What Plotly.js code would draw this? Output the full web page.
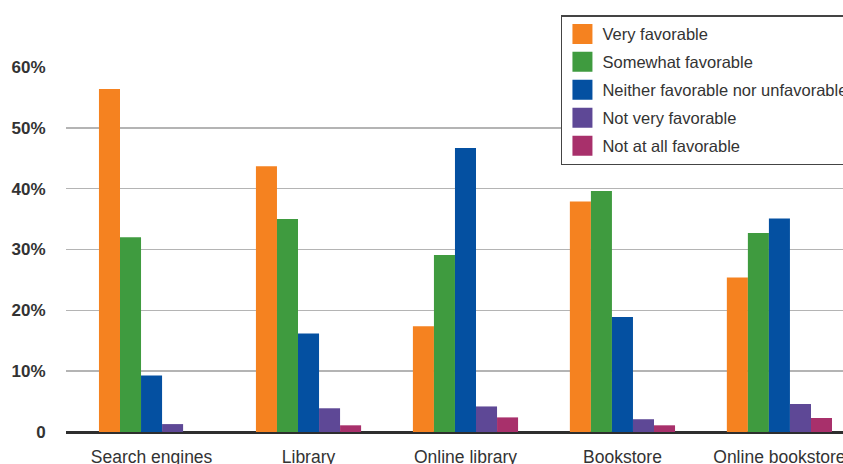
<!DOCTYPE html>
<html><head><meta charset="utf-8">
<script src="https://cdn.plot.ly/plotly-3.0.1.min.js"></script>
<style>html,body{margin:0;padding:0;background:#fff;overflow:hidden}#chart{width:843px;height:464px}</style>
</head><body><div id="chart"></div>
<script>
const categories = ["Search engines", "Library", "Online library", "Bookstore", "Online bookstore"];
const seriesNames = ["Very favorable", "Somewhat favorable", "Neither favorable nor unfavorable", "Not very favorable", "Not at all favorable"];
const veryFavorable = [56.4, 43.7, 17.4, 37.9, 25.4];
const somewhatFavorable = [32.0, 35.0, 29.1, 39.6, 32.7];
const neitherFavorable = [9.3, 16.2, 46.7, 18.9, 35.1];
const notVeryFavorable = [1.3, 3.9, 4.2, 2.1, 4.6];
const notAtAllFavorable = [0, 1.1, 2.4, 1.1, 2.3];
const seriesColors = ["#F58220", "#3F9B3F", "#0450A1", "#5E4896", "#A8306B"];
const yTickVals = [0, 10, 20, 30, 40, 50, 60];
const yTickText = ["0", "10%", "20%", "30%", "40%", "50%", "60%"];

const seriesValues = [veryFavorable, somewhatFavorable, neitherFavorable, notVeryFavorable, notAtAllFavorable];
const traces = seriesValues.map((vals, i) => ({
  type: "bar",
  name: seriesNames[i],
  x: categories,
  y: vals,
  marker: {color: seriesColors[i], line: {width: 0}},
  legendgroup: "g" + i,
  hoverinfo: "none"
}));

const layout = {
  width: 843,
  height: 464,
  paper_bgcolor: "#ffffff",
  plot_bgcolor: "#ffffff",
  margin: {l: 66, r: 0, t: 67, b: 32, pad: 0, autoexpand: false},
  font: {family: "Liberation Sans, Arial, sans-serif", color: "#333333"},
  barmode: "group",
  bargap: 0.33,
  bargroupgap: 0,
  showlegend: true,
  legend: {
    x: 0.637, y: 1.142, xanchor: "left", yanchor: "top",
    xref: "paper", yref: "paper",
    bgcolor: "#ffffff", bordercolor: "#444444", borderwidth: 1.5,
    font: {size: 16.5, color: "#333333", family: "Liberation Sans, Arial, sans-serif"},
    tracegroupgap: 3.5,
    traceorder: "grouped"
  },
  xaxis: {
    type: "category",
    range: [-0.545, 4.405],
    showgrid: false,
    showline: false,
    zeroline: false,
    automargin: false,
    ticks: "outside",
    ticklen: 9,
    tickcolor: "rgba(0,0,0,0)",
    tickfont: {size: 17.5, color: "#333333"},
    fixedrange: true
  },
  yaxis: {
    range: [0, 60],
    tickvals: yTickVals,
    ticktext: yTickText,
    showgrid: true,
    gridcolor: "#b4b4b4",
    gridwidth: 1.5,
    zeroline: true,
    zerolinecolor: "#2e2e2e",
    zerolinewidth: 3,
    showline: false,
    automargin: false,
    ticks: "outside",
    ticklen: 16,
    tickcolor: "rgba(0,0,0,0)",
    tickfont: {size: 17, color: "#333333", family: "Liberation Sans, Arial, sans-serif", weight: "bold"},
    fixedrange: true
  }
};

const gd = document.getElementById("chart");
function enlargeSwatches() {
  gd.querySelectorAll(".legend .legendpoints path").forEach(p => {
    p.setAttribute("d", "M10,10H-10V-10H10Z");
  });
}
Plotly.newPlot(gd, traces, layout, {staticPlot: true, displayModeBar: false}).then(() => {
  enlargeSwatches();
  gd.on("plotly_afterplot", enlargeSwatches);
});
</script>
</body></html>
